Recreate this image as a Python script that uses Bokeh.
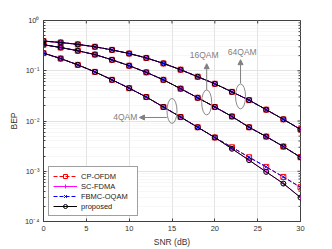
import math
from bokeh.plotting import figure
from bokeh.models import FixedTicker, CustomJSTickFormatter, Arrow, NormalHead
from bokeh.core.properties import value
from bokeh.embed import file_html
from bokeh.resources import INLINE

# ---------------- data ----------------
snr = [0, 2, 4, 6, 8, 10, 12, 14, 16, 18, 20, 22, 24, 26, 28, 30]

bep_64qam = [0.39, 0.365, 0.335, 0.30, 0.26, 0.22, 0.18, 0.14, 0.105, 0.076,
             0.055, 0.038, 0.026, 0.0168, 0.0108, 0.0068]
bep_16qam = [0.33, 0.29, 0.25, 0.21, 0.165, 0.126, 0.093, 0.066, 0.044, 0.029,
             0.019, 0.0123, 0.0075, 0.0049, 0.0031, 0.0019]
bep_4qam_ofdm = [0.224, 0.175, 0.131, 0.095, 0.066, 0.045, 0.030, 0.019, 0.012,
                 0.0075, 0.0047, 0.0030, 0.0019, 0.00122, 0.00077, 0.00048]
bep_4qam_sc = [0.224, 0.175, 0.131, 0.095, 0.066, 0.045, 0.030, 0.019, 0.012,
               0.0075, 0.0047, 0.0028, 0.00166, 0.00097, 0.00057, 0.00030]

schemes = ["CP-OFDM", "SC-FDMA", "FBMC-OQAM", "proposed"]
series = {
    "CP-OFDM": [bep_4qam_ofdm, bep_16qam, bep_64qam],
    "SC-FDMA": [bep_4qam_sc, bep_16qam, bep_64qam],
    "FBMC-OQAM": [bep_4qam_ofdm, bep_16qam, bep_64qam],
    "proposed": [bep_4qam_sc, bep_16qam, bep_64qam],
}
styles = {
    "CP-OFDM": dict(color="#ff0000", dash="4 2", marker="square"),
    "SC-FDMA": dict(color="#ff00ff", dash="solid", marker="cross"),
    "FBMC-OQAM": dict(color="#0000ff", dash="4 2", marker="x"),
    "proposed": dict(color="#000000", dash="solid", marker="circle"),
}

# annotations
ann_labels = ["4QAM", "16QAM", "64QAM"]
ell_x = [15.0, 19.05, 23.0]
ell_y = [10 ** -1.80, 10 ** -1.63, 10 ** -1.51]

xt = [0, 5, 10, 15, 20, 25, 30]
ymaj = [1e-4, 1e-3, 1e-2, 1e-1, 1]
ymin = [m * 10 ** e for e in range(-4, 0) for m in range(2, 10)]

FONT = "Liberation Sans"
TXT = "#333333"
AX = "#404040"

p = figure(width=332, height=249, output_backend="svg", toolbar_location=None,
           y_axis_type="log", x_range=(0, 30), y_range=(1e-4, 1),
           min_border_left=43, min_border_right=32, min_border_top=20,
           min_border_bottom=28)
p.background_fill_color = "white"
p.border_fill_color = "white"
p.outline_line_color = AX
p.outline_line_width = 1

yticker = FixedTicker(ticks=ymaj, minor_ticks=ymin)
fmt = CustomJSTickFormatter(code="""
const sup = {'-':'\u207b','0':'\u2070','1':'\u00b9','2':'\u00b2','3':'\u00b3','4':'\u2074'};
const e = Math.round(Math.log10(tick));
return '10' + String(e).split('').map(c => sup[c]).join('');
""")

xa = p.below[0]
xa.ticker = FixedTicker(ticks=xt)
xa.axis_label = "SNR (dB)"
ya = p.left[0]
ya.ticker = yticker
ya.formatter = fmt
ya.axis_label = "BEP"
for ax in (xa, ya):
    ax.major_label_text_font = FONT
    ax.major_label_text_font_size = "7.5px"
    ax.major_label_text_color = TXT
    ax.axis_label_text_font = FONT
    ax.axis_label_text_font_size = "8.5px"
    ax.axis_label_text_font_style = "normal"
    ax.axis_label_text_color = TXT
    ax.axis_line_color = AX
    ax.major_tick_line_color = AX
    ax.minor_tick_line_color = AX
    ax.major_tick_in = 3
    ax.major_tick_out = 0
    ax.minor_tick_out = 0
    ax.major_label_standoff = 4
    ax.axis_label_standoff = 3
xa.minor_tick_in = 0
ya.minor_tick_in = 2

# inner ticks on the top and right edges of the box
p.ray(x=xt, y=[1] * len(xt), length=3, length_units="screen", angle=-math.pi / 2,
      line_color=AX, line_width=1)
p.ray(x=[30] * len(ymaj), y=ymaj, length=3, length_units="screen", angle=math.pi,
      line_color=AX, line_width=1)
p.ray(x=[30] * len(ymin), y=ymin, length=2, length_units="screen", angle=math.pi,
      line_color=AX, line_width=1)

p.xgrid.ticker = FixedTicker(ticks=xt)
p.xgrid.grid_line_color = "#e3e3e3"
p.ygrid.ticker = yticker
p.ygrid.grid_line_color = "#e3e3e3"
p.ygrid.minor_grid_line_color = "#eeeeee"
p.ygrid.minor_grid_line_dash = "1 1"

# ---------------- curves ----------------
for name in schemes:
    st = styles[name]
    for i, ys in enumerate(series[name]):
        kw = dict(legend_label=name) if i == 0 else {}
        p.line(snr, ys, line_color=st["color"], line_width=1,
               line_dash=st["dash"], **kw)
        p.scatter(snr, ys, marker=st["marker"], size=5, line_color=st["color"],
                  fill_color=None, line_width=1, **kw)

# ---------------- annotations ----------------
p.ellipse(x=ell_x, y=ell_y, width=10, height=25, width_units="screen",
          height_units="screen", fill_color=None, line_color="#8a8a8a",
          line_width=1)

head = dict(size=5, fill_color="#808080", line_color="#808080")
p.add_layout(Arrow(end=NormalHead(**head), x_start=14.4, y_start=10 ** -1.93,
                   x_end=11.2, y_end=10 ** -1.93, line_color="#808080", line_width=1))
p.add_layout(Arrow(end=NormalHead(**head), x_start=19.05, y_start=10 ** -1.38,
                   x_end=19.05, y_end=10 ** -0.86, line_color="#808080", line_width=1))
p.add_layout(Arrow(end=NormalHead(**head), x_start=23.0, y_start=10 ** -1.25,
                   x_end=23.0, y_end=10 ** -0.78, line_color="#808080", line_width=1))

p.text(x=[9.55, 18.75, 23.2], y=[10 ** -1.92, 10 ** -0.69, 10 ** -0.62],
       text=ann_labels, text_font=value(FONT), text_font_size="8.5px",
       text_color="#808080", text_align="center", text_baseline="middle")

# ---------------- legend ----------------
lg = p.legend[0]
lg.location = "bottom_left"
lg.margin = 5
lg.padding = 4
lg.spacing = 0
lg.glyph_height = 10
lg.glyph_width = 24
lg.label_height = 10
lg.label_width = 52
lg.label_standoff = 4
lg.label_text_font = FONT
lg.label_text_font_size = "7.5px"
lg.label_text_color = "#222222"
lg.border_line_color = AX
lg.border_line_width = 1
lg.background_fill_color = "white"
lg.background_fill_alpha = 1

open("out.html", "w").write(file_html(p, INLINE))
